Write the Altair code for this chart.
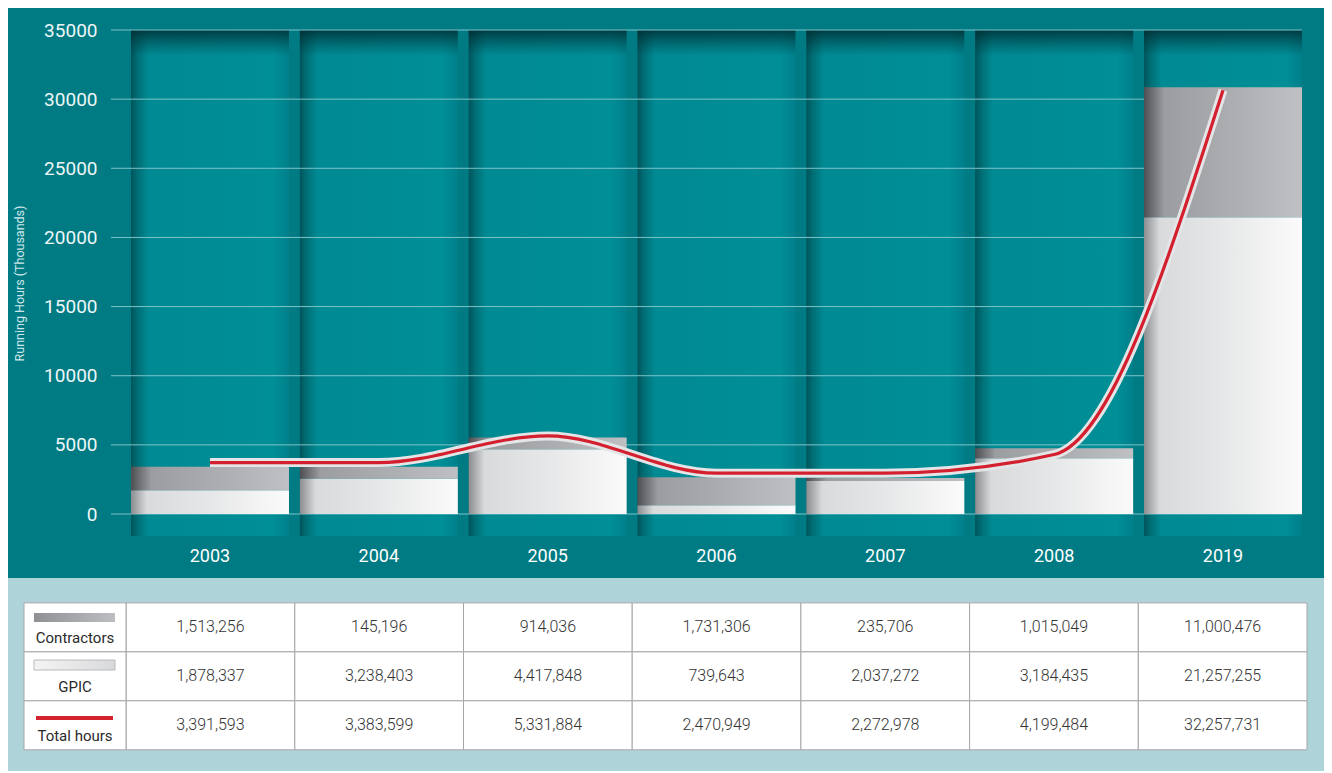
import altair as alt
import pandas as pd

# ---------------- data ----------------
years = ["2003", "2004", "2005", "2006", "2007", "2008", "2019"]
# bar heights as drawn (thousands of hours)
gpic_bar = [1710, 2570, 4690, 630, 2390, 4030, 21460]
total_bar = [3420, 3420, 5540, 2660, 2610, 4760, 30860]
# decorative total-hours curve as drawn (thousands)
line_total = [3720, 3720, 5650, 2950, 2950, 4300, 30650]
y_ticks = [0, 5000, 10000, 15000, 20000, 25000, 30000, 35000]

row_names = ["Contractors", "GPIC", "Total hours"]
contractors_tbl = [1513256, 145196, 914036, 1731306, 235706, 1015049, 11000476]
gpic_tbl = [1878337, 3238403, 4417848, 739643, 2037272, 3184435, 21257255]
total_tbl = [3391593, 3383599, 5331884, 2470949, 2272978, 4199484, 32257731]

# ---------------- sizes ----------------
W, H = 1191, 506
TW, TH = 1196, 193
FONT = "Roboto"

df = pd.DataFrame({"year": years, "gpic": gpic_bar, "total": total_bar, "line": line_total})
ticks_df = pd.DataFrame({"v": y_ticks})

rows = []
for name, vals in zip(row_names, [contractors_tbl, gpic_tbl, total_tbl]):
    for y, v in zip(years, vals):
        rows.append({"year": y, "row": name, "value": v})
tdf = pd.DataFrame(rows)
rdf = pd.DataFrame({"row": row_names})
one = pd.DataFrame({"a": [0]})


def grad(stops, vertical=False):
    return alt.LinearGradient(
        gradient="linear", x1=0, y1=0, x2=0 if vertical else 1, y2=1 if vertical else 0,
        stops=[alt.GradientStop(color=c, offset=o) for o, c in stops],
    )


col_grad = grad([(0, "#00545a"), (0.04, "#006d74"), (0.11, "#008a93"),
                 (0.9, "#008e97"), (1, "#00808a")])
top_grad = grad([(0, "rgba(0,40,45,0.8)"), (1, "rgba(0,60,66,0)")], vertical=True)
contr_grad = grad([(0, "#4e4f53"), (0.13, "#9c9da1"), (0.6, "#aeafb2"), (1, "#bfc0c3")])
gpic_grad = grad([(0, "#8c8d90"), (0.1, "#d9dadc"), (0.5, "#e6e7e8"), (1, "#fbfbfb")])
sw_contr_grad = grad([(0, "#8f9094"), (1, "#bdbec1")])
sw_gpic_grad = grad([(0, "#f4f4f4"), (1, "#d8d9db")])

xscale = alt.Scale(domain=years, paddingInner=0.0642, paddingOuter=0.0592, align=1)
yscale = alt.Scale(domain=[-1590, 35000], nice=False, zero=False)
xenc = alt.X("year:N", scale=xscale, sort=years,
             axis=alt.Axis(title=None, labelColor="#ffffff", labelFontSize=18, labelFont=FONT,
                           labelPadding=11, domain=False, ticks=False, grid=False, labelAngle=0))
yaxis = alt.Axis(values=y_ticks, format="d", title="Running Hours (Thousands)",
                 titleColor="#cfe7ea", titleFontSize=12.5, titleFont=FONT,
                 titleFontWeight="normal", titlePadding=17,
                 labelColor="#eef7f7", labelFontSize=19, labelFont=FONT, labelPadding=14,
                 domain=False, ticks=False, grid=False)

columns = alt.Chart(df).mark_bar(fill=col_grad).encode(x=xenc, y=alt.value(0), y2=alt.value(H))
top_shade = alt.Chart(df).mark_bar(fill=top_grad).encode(x=xenc, y=alt.value(0), y2=alt.value(26))
grid = alt.Chart(ticks_df).mark_rule(color="#7cc4c9", strokeWidth=1).encode(
    y=alt.Y("v:Q", scale=yscale, axis=yaxis), x=alt.value(0), x2=alt.value(W))
gpic_layer = alt.Chart(df).mark_bar(fill=gpic_grad).encode(
    x=xenc, y=alt.Y("gpic:Q", scale=yscale, axis=yaxis), y2=alt.datum(0))
contr_layer = alt.Chart(df).mark_bar(fill=contr_grad).encode(
    x=xenc, y=alt.Y("total:Q", scale=yscale, axis=yaxis), y2="gpic:Q")
casing = alt.Chart(df).mark_line(color="#e4e5e6", strokeWidth=9, interpolate="monotone",
                                 strokeCap="butt").encode(
    x=xenc, y=alt.Y("line:Q", scale=yscale, axis=yaxis))
red = alt.Chart(df).mark_line(color="#d41f2e", strokeWidth=3.2, interpolate="monotone",
                              strokeCap="butt").encode(
    x=xenc, y=alt.Y("line:Q", scale=yscale, axis=yaxis))

main = alt.layer(columns, top_shade, grid, gpic_layer, contr_layer, casing, red).properties(
    width=W, height=H)

# ---------------- table ----------------
txscale = alt.Scale(domain=years, paddingInner=0, paddingOuter=0.0448, align=1)
tyscale = alt.Scale(domain=row_names, paddingInner=0, paddingOuter=0.47, align=0.54)
tx = alt.X("year:N", scale=txscale, sort=years, axis=None)
ty = alt.Y("row:N", scale=tyscale, sort=row_names, axis=None)

panel = alt.Chart(one).mark_rect(fill="#aed3d8").encode(
    x=alt.value(-103), x2=alt.value(TW + 17), y=alt.value(0), y2=alt.value(TH))
cells = alt.Chart(tdf).mark_rect(fill="#ffffff", stroke="#a6a6a6", strokeWidth=1).encode(x=tx, y=ty)
label_cells = alt.Chart(rdf).mark_rect(fill="#ffffff", stroke="#a6a6a6", strokeWidth=1).encode(
    x=alt.value(-87), x2=alt.value(15), y=ty)
nums = alt.Chart(tdf).mark_text(font=FONT, fontSize=16, fontWeight=300, color="#333333",
                                baseline="middle").encode(
    x=tx, y=ty, text=alt.Text("value:Q", format=","))
labels = alt.Chart(rdf).mark_text(font=FONT, fontSize=15, color="#2a2a2a", baseline="alphabetic",
                                  dy=16).encode(x=alt.value(-36), y=ty, text="row:N")
sw1 = alt.Chart(one).mark_rect(fill=sw_contr_grad).encode(
    x=alt.value(-77), x2=alt.value(4), y=alt.value(35), y2=alt.value(44))
sw2 = alt.Chart(one).mark_rect(fill=sw_gpic_grad, stroke="#b9babc", strokeWidth=1).encode(
    x=alt.value(-77), x2=alt.value(4), y=alt.value(82), y2=alt.value(92))
sw3 = alt.Chart(one).mark_rect(fill="#d3232e").encode(
    x=alt.value(-75), x2=alt.value(2), y=alt.value(138), y2=alt.value(142))

table = alt.layer(panel, cells, label_cells, nums, labels, sw1, sw2, sw3).properties(
    width=TW, height=TH)

chart = (
    alt.vconcat(main, table, spacing=13)
    .resolve_scale(x="independent", y="independent")
    .properties(background="#007b83", padding={"top": 13, "left": 0, "right": 0, "bottom": 0})
    .configure_view(strokeWidth=0)
)

chart.save("out.html", embed_options={"renderer": "svg", "actions": False})
